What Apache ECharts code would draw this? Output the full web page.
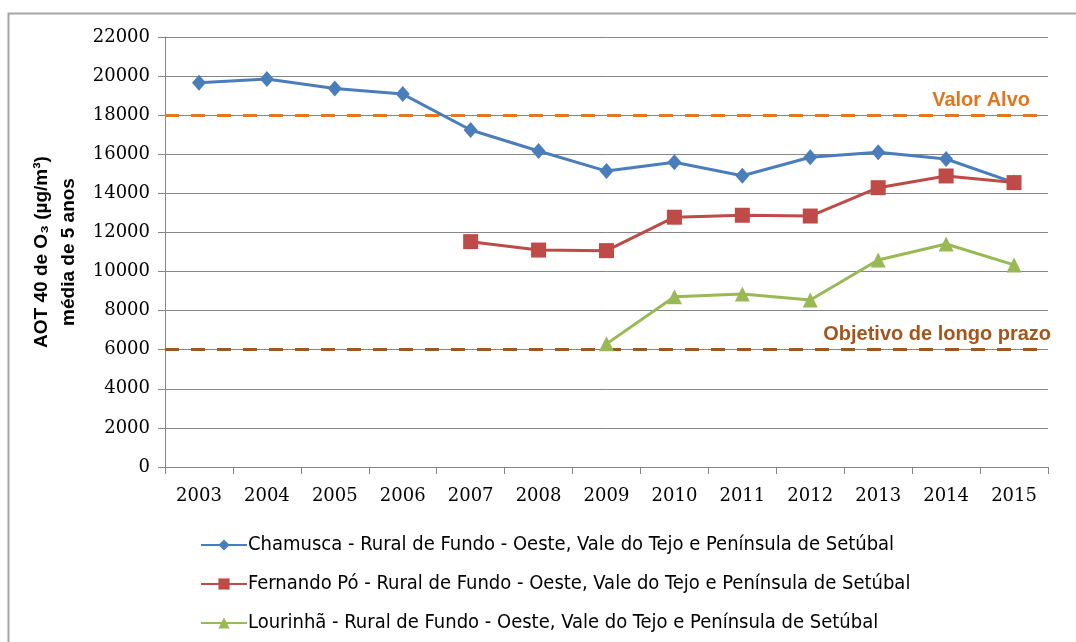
<!DOCTYPE html>
<html>
<head>
<meta charset="utf-8">
<script src="https://cdn.jsdelivr.net/npm/echarts@6/dist/echarts.min.js"></script>
<style>
  html, body { margin: 0; padding: 0; background: #fff; }
  #chart { width: 1076px; height: 642px; }
</style>
</head>
<body>
<div id="chart"></div>
<script>
// AOT40 de O3, média de 5 anos, estações rurais de fundo
const years = ['2003', '2004', '2005', '2006', '2007', '2008', '2009', '2010', '2011', '2012', '2013', '2014', '2015'];

const chamusca = [19660, 19850, 19370, 19080, 17240, 16170, 15140, 15590, 14900, 15850, 16100, 15760, 14550];
const fernandoPo = [null, null, null, null, 11530, 11100, 11070, 12780, 12880, 12840, 14290, 14890, 14550];
const lourinha = [null, null, null, null, null, null, 6300, 8710, 8850, 8540, 10590, 11410, 10340];

const seriesNames = [
  'Chamusca - Rural de Fundo - Oeste, Vale do Tejo e Península de Setúbal',
  'Fernando Pó - Rural de Fundo - Oeste, Vale do Tejo e Península de Setúbal',
  'Lourinhã - Rural de Fundo - Oeste, Vale do Tejo e Península de Setúbal'
];

const valorAlvo = 18000;
const objetivoLongoPrazo = 6000;

const yTicks = { min: 0, max: 22000, interval: 2000 };

const tickFont = '"DejaVu Serif", "Liberation Serif", serif';
const textFont = '"Liberation Sans Narrow", "DejaVu Sans Condensed", "Liberation Sans", sans-serif';
const boldFont = '"Liberation Sans", Arial, sans-serif';

const chart = echarts.init(document.getElementById('chart'));

function lineSeries(name, data, color, symbol, size) {
  return {
    name: name,
    type: 'line',
    data: data,
    symbol: symbol,
    symbolSize: size,
    showAllSymbol: true,
    connectNulls: false,
    itemStyle: { color: color },
    lineStyle: { color: color, width: 3 },
    emphasis: { disabled: true },
    z: 3
  };
}

const sChamusca = lineSeries(seriesNames[0], chamusca, '#4A7EBB', 'diamond', [14, 16]);
const sFernando = lineSeries(seriesNames[1], fernandoPo, '#BE4B48', 'rect', 15);
const sLourinha = lineSeries(seriesNames[2], lourinha, '#98B954', 'triangle', 15);

// reference levels drawn across the whole plot width
sChamusca.markLine = {
  silent: true,
  symbol: 'none',
  z: 2,
  data: [
    {
      yAxis: valorAlvo,
      lineStyle: { color: '#E8781E', width: 3, type: [14, 12] },
      label: {
        show: true,
        position: 'insideEndTop',
        formatter: 'Valor Alvo',
        color: '#E0761E',
        fontFamily: boldFont,
        fontWeight: 'bold',
        fontSize: 20,
        distance: [18, 5]
      }
    },
    {
      yAxis: objetivoLongoPrazo,
      lineStyle: { color: '#A3561C', width: 3, type: [14, 12] },
      label: {
        show: true,
        position: 'insideEndTop',
        formatter: 'Objetivo de longo prazo',
        color: '#A3561C',
        fontFamily: boldFont,
        fontWeight: 'bold',
        fontSize: 20,
        distance: [-3, 5]
      }
    }
  ]
};

chart.setOption({
  animation: false,
  backgroundColor: '#fff',
  graphic: [{
    type: 'rect',
    shape: { x: 8.5, y: 13.5, width: 1100, height: 700 },
    style: { fill: 'none', stroke: '#A6A6A6', lineWidth: 2 },
    silent: true,
    z: -1
  }],
  grid: { left: 165, right: 28, top: 37, bottom: 175 },
  legend: {
    orient: 'vertical',
    left: 195,
    top: 529,
    itemWidth: 46,
    itemHeight: 14,
    itemGap: 17,
    selectedMode: false,
    textStyle: { fontFamily: textFont, fontSize: 20, lineHeight: 22, color: '#000', padding: [0, 0, 0, -4] },
    data: seriesNames
  },
  xAxis: {
    type: 'category',
    data: years,
    boundaryGap: true,
    axisLine: { lineStyle: { color: '#868686', width: 1 } },
    axisTick: { show: true, length: 7, inside: false, lineStyle: { color: '#868686' } },
    axisLabel: { color: '#000', fontFamily: tickFont, fontSize: 18, margin: 20 },
    splitLine: { show: false }
  },
  yAxis: {
    type: 'value',
    min: yTicks.min,
    max: yTicks.max,
    interval: yTicks.interval,
    name: 'AOT 40 de O\u2083 (µg/m\u00B3)\nmédia de 5 anos',
    nameLocation: 'middle',
    nameRotate: 90,
    nameGap: 72,
    nameTextStyle: {
      color: '#000',
      fontFamily: boldFont,
      fontWeight: 'bold',
      fontSize: 19,
      lineHeight: 27
    },
    axisLine: { show: true, lineStyle: { color: '#868686', width: 1 } },
    axisTick: { show: true, length: 7, inside: false, lineStyle: { color: '#868686' } },
    axisLabel: {
      color: '#000',
      fontFamily: tickFont,
      fontSize: 18,
      margin: 15,
      formatter: function (v) { return String(v); }
    },
    splitLine: { show: true, lineStyle: { color: '#868686', width: 1 } }
  },
  series: [sChamusca, sFernando, sLourinha]
});
</script>
</body>
</html>
